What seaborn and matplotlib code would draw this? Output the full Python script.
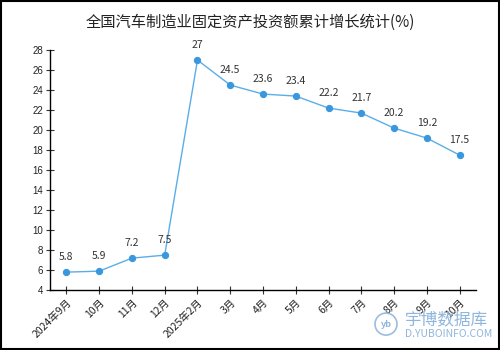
import matplotlib
matplotlib.use("Agg")
import matplotlib.pyplot as plt
import seaborn as sns
import pandas as pd
from matplotlib.patches import Rectangle, Ellipse

months = ["2024年9月", "10月", "11月", "12月", "2025年2月", "3月", "4月", "5月", "6月", "7月", "8月", "9月", "10月"]
values = [5.8, 5.9, 7.2, 7.5, 27, 24.5, 23.6, 23.4, 22.2, 21.7, 20.2, 19.2, 17.5]
labels = ["5.8", "5.9", "7.2", "7.5", "27", "24.5", "23.6", "23.4", "22.2", "21.7", "20.2", "19.2", "17.5"]
yticks = list(range(4, 29, 2))

sns.set_theme(style="white")
plt.rcParams['font.family'] = ['Noto Sans CJK SC', 'DejaVu Sans']

df = pd.DataFrame({"x": range(len(months)), "v": values})

fig = plt.figure(figsize=(5, 3.5), dpi=100)
ax = fig.add_axes([0.10, 0.171, 0.852, 0.686])

sns.lineplot(data=df, x="x", y="v", ax=ax, color="#5aaee8", linewidth=1.0,
             marker="o", markersize=4.5, markerfacecolor="#3a97dd",
             markeredgecolor="#3a97dd")

for i, (v, t) in enumerate(zip(values, labels)):
    ax.annotate(t, (i, v), xytext=(0, 7), textcoords="offset points",
                ha="center", va="bottom", fontsize=7.5, color="#333333")

ax.set_xlim(-0.5, len(months) - 0.5)
ax.set_ylim(4, 28)
ax.set_yticks(yticks)
ax.set_yticklabels([str(t) for t in yticks], fontsize=7, color="#222222",
                   family=["Liberation Sans", "DejaVu Sans"])
ax.set_xticks(range(len(months)))
ax.set_xticklabels(months, rotation=45, ha="right", rotation_mode="anchor",
                   fontsize=7.5, color="#222222")
ax.set_xlabel("")
ax.set_ylabel("")
for s in ["top", "right"]:
    ax.spines[s].set_visible(False)
for s in ["left", "bottom"]:
    ax.spines[s].set_color("black")
    ax.spines[s].set_linewidth(1.0)
ax.tick_params(axis="both", which="major", direction="inout", length=6,
               width=0.8, color="#333333", left=True, bottom=True, pad=2)

fig.text(0.5, 0.935, "全国汽车制造业固定资产投资额累计增长统计(%)", ha="center",
         va="center", fontsize=11, color="#222222")

# watermark
fig.text(0.81, 0.0857, "宇博数据库", ha="left", va="center", fontsize=12,
         color="#8fb6dd")
fig.text(0.81, 0.045, "D.YUBOINFO.COM", ha="left", va="center", fontsize=7.5,
         color="#8fb6dd")
fig.patches.append(Ellipse((0.772, 0.074), 22 / 500, 22 / 350, transform=fig.transFigure,
                           facecolor="none", edgecolor="#9bbde0", linewidth=1.2))
fig.text(0.772, 0.074, "yb", ha="center", va="center", fontsize=6.5, color="#8fb6dd",
         style="italic", fontweight="bold")

fig.patches.append(Rectangle((0.002, 0.003), 0.996, 0.994, transform=fig.transFigure,
                             facecolor="none", edgecolor="black", linewidth=1.5))

fig.savefig("out.png", dpi=100)
